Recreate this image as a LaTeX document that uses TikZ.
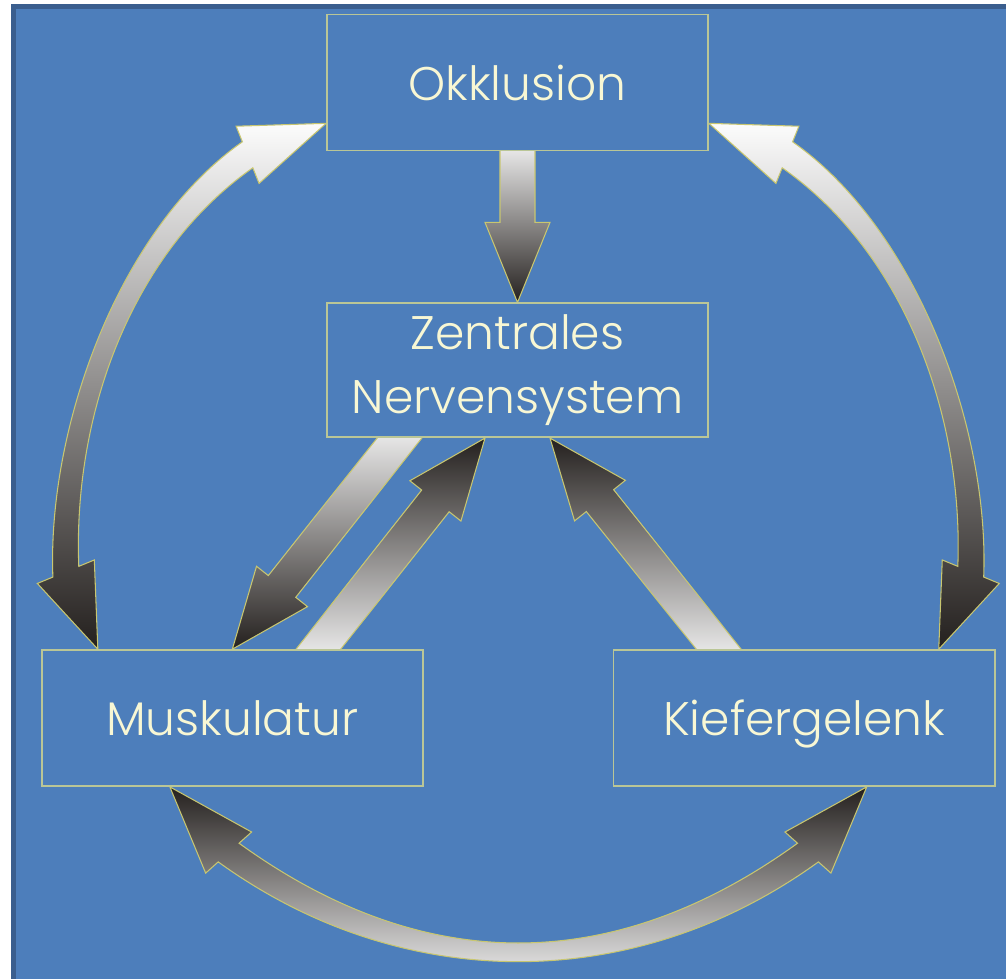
\documentclass[tikz,border=0pt]{standalone}
\usepackage{fontspec}
\setmainfont{Poppins}[UprightFont=* Light]
\usetikzlibrary{calc,positioning}

\definecolor{bgblue}{RGB}{77,126,187}
\definecolor{bgshadow}{RGB}{58,94,142}
\definecolor{boxline}{RGB}{186,198,150}
\definecolor{arrowline}{RGB}{200,198,112}
\definecolor{labeltext}{RGB}{248,247,212}
\definecolor{lightgrey}{RGB}{252,252,252}
\definecolor{darkgrey}{RGB}{36,32,30}

\pgfdeclarelayer{back}
\pgfdeclarelayer{arrows}
\pgfsetlayers{back,arrows,main}

\tikzset{
        block/.style = {draw=boxline, line width=0.45pt, fill=bgblue, rectangle,
            minimum width=3.81cm, minimum height=1.36cm, inner sep=0pt,
            text=labeltext, font=\fontsize{13.4}{18}\selectfont, align=center},
        blockarrow/.style = {draw=arrowline, line width=0.3pt},
        downshade/.style = {top color=lightgrey, bottom color=darkgrey},
        upshade/.style = {top color=darkgrey, bottom color=lightgrey},
    }

% straight block arrow: tail, tip, style
\newcommand{\straightblock}[3]{%
  \coordinate (ta) at ($(#1)!-0.18cm!(#2)$);
  \coordinate (hb) at ($(#2)!0.8cm!(#1)$);
  \path[blockarrow,#3] ($(ta)!0.175cm!90:(#2)$) -- ($(hb)!0.175cm!90:(#2)$)
    -- ($(hb)!0.325cm!90:(#2)$) -- (#2) -- ($(hb)!0.325cm!-90:(#2)$)
    -- ($(hb)!0.175cm!-90:(#2)$) -- ($(ta)!0.175cm!-90:(#2)$) -- cycle;
}

% curved block arrow with two heads: tip, base, ctrl, ctrl, base, tip, style
\newcommand{\curvedblock}[7]{%
  \coordinate (oa) at ($(#2)!0.14cm!-90:(#1) - (#2)$);
  \coordinate (ob) at ($(#5)!0.14cm!90:(#6) - (#5)$);
  \path[blockarrow,#7] ($(#2)+(oa)$) .. controls ($(#3)+(oa)$) and ($(#4)+(ob)$) .. ($(#5)+(ob)$)
    -- ($(#5)+2.2*(ob)$) -- (#6) -- ($(#5)-2.2*(ob)$) -- ($(#5)-(ob)$)
    .. controls ($(#4)-(ob)$) and ($(#3)-(oa)$) .. ($(#2)-(oa)$)
    -- ($(#2)-2.2*(oa)$) -- (#1) -- ($(#2)+2.2*(oa)$) -- cycle;
}

\begin{document}
\begin{tikzpicture}[x=0.01cm, y=-0.01cm]
    \useasboundingbox (0,0) rectangle (1006,979);

    \node[block] (okk) at (517.5,82.5) {Okklusion};
    \node[block, minimum height=1.34cm, below=1.51cm of okk] (zen) {Zentrales\\Nervensystem};
    \node[block, text depth=0pt, below=2.11cm of zen, xshift=-2.85cm] (musk) {Muskulatur};
    \node[block, text depth=0pt, right=1.89cm of musk] (kief) {Kiefergelenk};

    \begin{pgfonlayer}{back}
        \fill[white] (0,0) rectangle (1006,979);
        \fill[bgblue] (11,4) rectangle (1006,979);
        \fill[bgshadow] (11,4) rectangle (1006,9);
        \fill[bgshadow] (11,4) rectangle (16,979);
    \end{pgfonlayer}

    \begin{pgfonlayer}{arrows}
        % ends of the arcs
        \coordinate (lt0) at ($(okk.south west)+(0,-28)$);
        \coordinate (rt0) at ($(okk.south east)+(0,-28)$);
        \coordinate (lt3) at ($(musk.north)+(-134.5,0)$);
        \coordinate (rt3) at ($(kief.north)+(134.5,0)$);
        \coordinate (bt0) at ($(musk.south)+(-62.5,0)$);
        \coordinate (bt3) at ($(kief.south)+(62.5,0)$);

        % Okklusion <-> Muskulatur
        \curvedblock{lt0}{$(lt0)+(-78.5,31.5)$}{$(lt0)+(-201.4,117.6)$}
            {$(lt3)+(-37.8,-227.5)$}{$(lt3)+(-32,-77.5)$}{lt3}{downshade}
        % Okklusion <-> Kiefergelenk
        \curvedblock{rt0}{$(rt0)+(78.5,31.5)$}{$(rt0)+(201.4,117.6)$}
            {$(rt3)+(37.8,-227.5)$}{$(rt3)+(32,-77.5)$}{rt3}{downshade}
        % Muskulatur <-> Kiefergelenk
        \curvedblock{bt0}{$(bt0)+(58.8,65.7)$}{$(bt0)+(242.8,198.7)$}
            {$(bt3)+(-242.8,198.7)$}{$(bt3)+(-58.8,65.7)$}{bt3}{upshade}

        % straight arrows
        \straightblock{okk.south}{zen.north}{downshade}
        \straightblock{$(zen.south)+(-118,0)$}{musk.north}{downshade}
        \straightblock{$(musk.north)+(86,0)$}{$(zen.south)+(-32.5,0)$}{upshade}
        \straightblock{$(kief.north)+(-85.5,0)$}{$(zen.south)+(32.5,0)$}{upshade}
    \end{pgfonlayer}
\end{tikzpicture}
\end{document}
